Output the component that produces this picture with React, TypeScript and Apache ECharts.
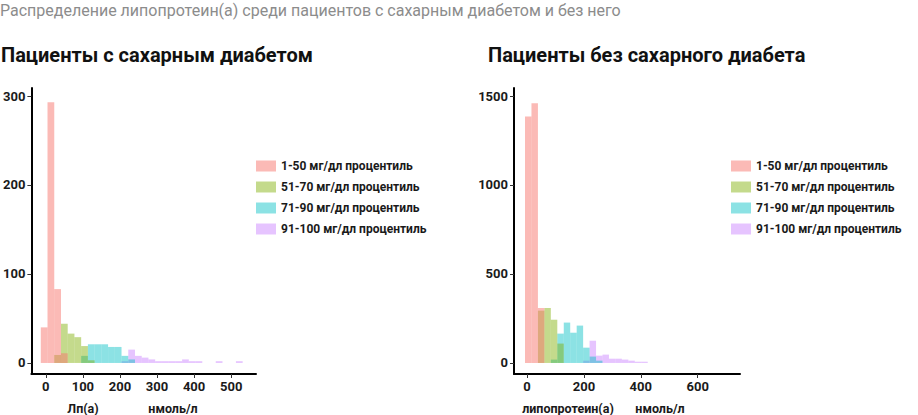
import React, { useEffect, useRef } from "react";
import * as echarts from "echarts";

// ---------- data ----------
const groupNames = [
  "1-50 мг/дл процентиль",
  "51-70 мг/дл процентиль",
  "71-90 мг/дл процентиль",
  "91-100 мг/дл процентиль",
];
const groupColors = [
  "rgba(248,118,109,0.5)",
  "rgba(124,174,0,0.45)",
  "rgba(0,191,196,0.45)",
  "rgba(199,124,255,0.45)",
];

// Left: patients with diabetes (30 bins)
const leftBinStart = -13.5;
const leftBinWidth = 18.15;
const leftPink = [40, 293, 83, 11, 0, 0, 0, 0, 0, 0, 0, 0, 0, 0, 0, 0, 0, 0, 0, 0, 0, 0, 0, 0, 0, 0, 0, 0, 0, 0];
const leftGreen = [0, 0, 9, 44, 33, 29, 19, 3, 0, 0, 0, 0, 0, 0, 0, 0, 0, 0, 0, 0, 0, 0, 0, 0, 0, 0, 0, 0, 0, 0];
const leftCyan = [0, 0, 0, 0, 0, 0, 8, 21, 21, 21, 18, 18, 8, 4, 0, 0, 0, 0, 0, 0, 0, 0, 0, 0, 0, 0, 0, 0, 0, 0];
const leftPurple = [0, 0, 0, 0, 0, 0, 0, 0, 0, 0, 0, 0, 2, 15, 8, 6, 4, 2, 2, 2, 2, 4, 2, 2, 0, 0, 2, 0, 0, 2];

// Right: patients without diabetes (30 bins)
const rightBinStart = -7;
const rightBinWidth = 22.7;
const rightPink = [1385, 1460, 309, 0, 0, 0, 0, 0, 0, 0, 0, 0, 0, 0, 0, 0, 0, 0, 0, 0, 0, 0, 0, 0, 0, 0, 0, 0, 0, 0];
const rightGreen = [0, 0, 294, 309, 243, 109, 0, 0, 0, 0, 0, 0, 0, 0, 0, 0, 0, 0, 0, 0, 0, 0, 0, 0, 0, 0, 0, 0, 0, 0];
const rightCyan = [0, 0, 0, 0, 19, 165, 227, 170, 210, 86, 36, 13, 0, 0, 0, 0, 0, 0, 0, 0, 0, 0, 0, 0, 0, 0, 0, 0, 0, 0];
const rightPurple = [0, 0, 0, 0, 0, 0, 0, 0, 0, 13, 125, 41, 47, 24, 24, 19, 13, 7, 7, 0, 0, 0, 0, 0, 0, 0, 0, 0, 0, 0];

const leftYTicks = [0, 100, 200, 300];
const rightYTicks = [0, 500, 1000, 1500];
const leftXTicks = [0, 100, 200, 300, 400, 500];
const rightXTicks = [0, 200, 400, 600];

const mainTitle = "Распределение липопротеин(а) среди пациентов с сахарным диабетом и без него";
const leftTitle = "Пациенты с сахарным диабетом";
const rightTitle = "Пациенты без сахарного диабета";
const leftXName = ["Лп(а)", "нмоль/л"];
const rightXName = ["липопротеин(а)", "нмоль/л"];

// ---------- helpers ----------
function toBins(counts: number[], start: number, width: number) {
  const out: number[][] = [];
  counts.forEach((c, k) => {
    if (c > 0) out.push([start + k * width, start + (k + 1) * width, c]);
  });
  return out;
}

const FONT = "Roboto, 'Noto Sans', sans-serif";

function histSeries(name: string, color: string, data: number[][], idx: number) {
  return {
    type: "custom",
    name,
    xAxisIndex: idx,
    yAxisIndex: idx,
    itemStyle: { color },
    encode: { x: [0, 1], y: 2 },
    data,
    renderItem: (params: any, api: any) => {
      const p0 = api.coord([api.value(0), api.value(2)]);
      const p1 = api.coord([api.value(1), 0]);
      return {
        type: "rect",
        shape: { x: p0[0], y: p0[1], width: p1[0] - p0[0], height: p1[1] - p0[1] },
        style: { fill: color },
      };
    },
  };
}

const labelStyle = {
  margin: 6,
  color: "#1a1a1a",
  fontWeight: "bold",
  fontSize: 13,
  fontFamily: FONT,
  formatter: (v: number) => String(v),
};

function xAxis(idx: number, min: number, max: number, ticks: number[]) {
  return {
    type: "value",
    gridIndex: idx,
    min,
    max,
    axisLine: { onZero: false, lineStyle: { color: "#000", width: 2 } },
    axisTick: { show: true, length: 4, customValues: ticks, lineStyle: { color: "#333", width: 1 } },
    axisLabel: { ...labelStyle, customValues: ticks },
    splitLine: { show: false },
  };
}

function yAxis(idx: number, min: number, max: number, ticks: number[]) {
  return {
    type: "value",
    gridIndex: idx,
    min,
    max,
    axisLine: { show: true, onZero: false, lineStyle: { color: "#000", width: 2 } },
    axisTick: { show: true, length: 4, customValues: ticks, lineStyle: { color: "#333", width: 1 } },
    axisLabel: { ...labelStyle, customValues: ticks },
    splitLine: { show: false },
  };
}

function legend(left: number, top: number) {
  return {
    orient: "vertical",
    left,
    top,
    data: groupNames,
    icon: "rect",
    itemWidth: 20,
    itemHeight: 11,
    itemGap: 9,
    padding: 0,
    selectedMode: false,
    textStyle: { color: "#1a1a1a", fontWeight: "bold", fontSize: 12, fontFamily: FONT },
  };
}

export default function App() {
  const ref = useRef<HTMLDivElement>(null);
  useEffect(() => {
    if (!ref.current) return;
    const chart = echarts.init(ref.current, null, { renderer: "svg" });
    const leftSets = [leftPink, leftGreen, leftCyan, leftPurple];
    const rightSets = [rightPink, rightGreen, rightCyan, rightPurple];
    const series: any[] = [];
    // draw order: purple bottom, pink on top
    [3, 2, 1, 0].forEach((g) => {
      series.push(histSeries(groupNames[g], groupColors[g], toBins(leftSets[g], leftBinStart, leftBinWidth), 0));
    });
    [3, 2, 1, 0].forEach((g) => {
      series.push(histSeries(groupNames[g], groupColors[g], toBins(rightSets[g], rightBinStart, rightBinWidth), 1));
    });

    const axisTitleFont = `bold 12.5px ${FONT}`;
    const option: any = {
      animation: false,
      backgroundColor: "#fff",
      title: [
        {
          text: mainTitle,
          left: 0,
          top: 2,
          padding: 0,
          textStyle: { fontSize: 16, fontWeight: "normal", color: "#8c8c8c", fontFamily: FONT },
        },
        {
          text: leftTitle,
          left: 1,
          top: 45,
          padding: 0,
          textStyle: { fontSize: 20, fontWeight: "bold", color: "#111", fontFamily: FONT },
        },
        {
          text: rightTitle,
          left: 488,
          top: 45,
          padding: 0,
          textStyle: { fontSize: 20, fontWeight: "bold", color: "#111", fontFamily: FONT },
        },
      ],
      grid: [
        { left: 27, top: 88, width: 229, height: 286, containLabel: false },
        { left: 514, top: 88, width: 226, height: 286, containLabel: false },
      ],
      xAxis: [xAxis(0, -38.9, 567, leftXTicks), xAxis(1, -45.7, 748.7, rightXTicks)],
      yAxis: [yAxis(0, -12.4, 309, leftYTicks), yAxis(1, -62, 1545, rightYTicks)],
      legend: [legend(256, 160), legend(731, 160)],
      graphic: [
        { type: "text", x: 83, y: 408, style: { text: leftXName[0], fill: "#1a1a1a", font: axisTitleFont, align: "center", verticalAlign: "middle" } },
        { type: "text", x: 173, y: 408, style: { text: leftXName[1], fill: "#1a1a1a", font: axisTitleFont, align: "center", verticalAlign: "middle" } },
        { type: "text", x: 568, y: 408, style: { text: rightXName[0], fill: "#1a1a1a", font: axisTitleFont, align: "center", verticalAlign: "middle" } },
        { type: "text", x: 660, y: 408, style: { text: rightXName[1], fill: "#1a1a1a", font: axisTitleFont, align: "center", verticalAlign: "middle" } },
      ],
      series,
    };
    chart.setOption(option);
    return () => chart.dispose();
  }, []);
  return (
    <div
      ref={ref}
      style={{ position: "absolute", left: 0, top: 0, width: 918, height: 415, background: "#fff" }}
    />
  );
}
